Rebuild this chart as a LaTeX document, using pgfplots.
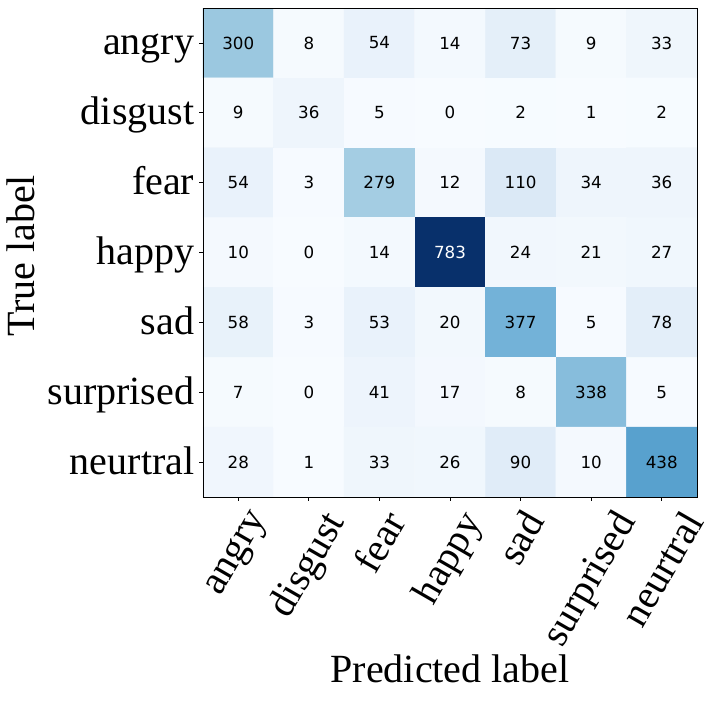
\documentclass[border=0pt]{standalone}
\usepackage{fontspec}
\setmainfont{Liberation Serif}
\newfontfamily\numfont{DejaVu Sans}
\usepackage{pgfplots}
\usepackage{pgfplotstable}
\pgfplotsset{compat=1.18}

% confusion matrix: x = predicted, y = true
\pgfplotstableread{
x y z
0 0 300
1 0 8
2 0 54
3 0 14
4 0 73
5 0 9
6 0 33
0 1 9
1 1 36
2 1 5
3 1 0
4 1 2
5 1 1
6 1 2
0 2 54
1 2 3
2 2 279
3 2 12
4 2 110
5 2 34
6 2 36
0 3 10
1 3 0
2 3 14
3 3 783
4 3 24
5 3 21
6 3 27
0 4 58
1 4 3
2 4 53
3 4 20
4 4 377
5 4 5
6 4 78
0 5 7
1 5 0
2 5 41
3 5 17
4 5 8
5 5 338
6 5 5
0 6 28
1 6 1
2 6 33
3 6 26
4 6 90
5 6 10
6 6 438
}\cmtable

\pgfplotsset{
    cellnums/.style={color=#1, only marks, mark=none, point meta=explicit,
        nodes near coords, nodes near coords align=center,
        every node near coord/.append style={font=\numfont\fontsize{16.7}{20}\selectfont, anchor=center, text=#1}},
}

\begin{document}
\begin{tikzpicture}
\path[use as bounding box] (-203pt,-205pt) rectangle (509pt,497pt);
\begin{axis}[
    at={(0,0)}, anchor=south west,
    scale only axis,
    width=494pt, height=489pt,
    xmin=-0.5, xmax=6.5, ymin=-0.5, ymax=6.5,
    y dir=reverse,
    enlargelimits=false,
    axis line style={line width=0.8pt, black},
    tick align=outside,
    major tick length=3.5pt,
    tick style={line width=0.8pt, black},
    xtick pos=lower, ytick pos=left,
    xtick={0,...,6}, ytick={0,...,6},
    xticklabels={\rotatebox{60}{angry},\rotatebox{60}{disgust},\rotatebox{60}{fear},\rotatebox{60}{happy},\rotatebox{60}{sad},\rotatebox{60}{surprised},\rotatebox{60}{neurtral}},
    yticklabels={angry,disgust,fear,happy,sad,surprised,neurtral},
    x tick label style={anchor=north, font=\fontsize{40}{48}\selectfont, inner sep=1pt, yshift=-6pt},
    y tick label style={anchor=base east, font=\fontsize{40}{48}\selectfont, inner sep=1pt, xshift=-4pt, yshift=-12pt},
    xlabel={Predicted label},
    ylabel={True label},
    every axis x label/.style={at={(axis description cs:0.5,-0.380)}, anchor=base, font=\fontsize{40}{48}\selectfont},
    every axis y label/.style={at={(axis description cs:-0.342,0.493)}, rotate=90, anchor=base, font=\fontsize{40}{48}\selectfont},
    colormap={blues}{rgb255=(247,251,255) rgb255=(222,235,247) rgb255=(198,219,239) rgb255=(158,202,225) rgb255=(107,174,214) rgb255=(66,146,198) rgb255=(33,113,181) rgb255=(8,81,156) rgb255=(8,48,107)},
    point meta min=0, point meta max=783,
    /pgf/number format/assume math mode=true,
]
\addplot[matrix plot, mesh/cols=7, point meta=explicit] table[x=x, y=y, meta=z] {\cmtable};
% cell counts: black on light cells, white on the darkest cell
\addplot[cellnums=black, restrict expr to domain={\thisrow{z}}{-1:600}] table[x=x, y=y, meta=z] {\cmtable};
\addplot[cellnums=white, restrict expr to domain={\thisrow{z}}{600:1000}] table[x=x, y=y, meta=z] {\cmtable};
% frame over the cells
\draw[line width=0.8pt, black] (rel axis cs:0,0) rectangle (rel axis cs:1,1);
\end{axis}
\end{tikzpicture}
\end{document}
